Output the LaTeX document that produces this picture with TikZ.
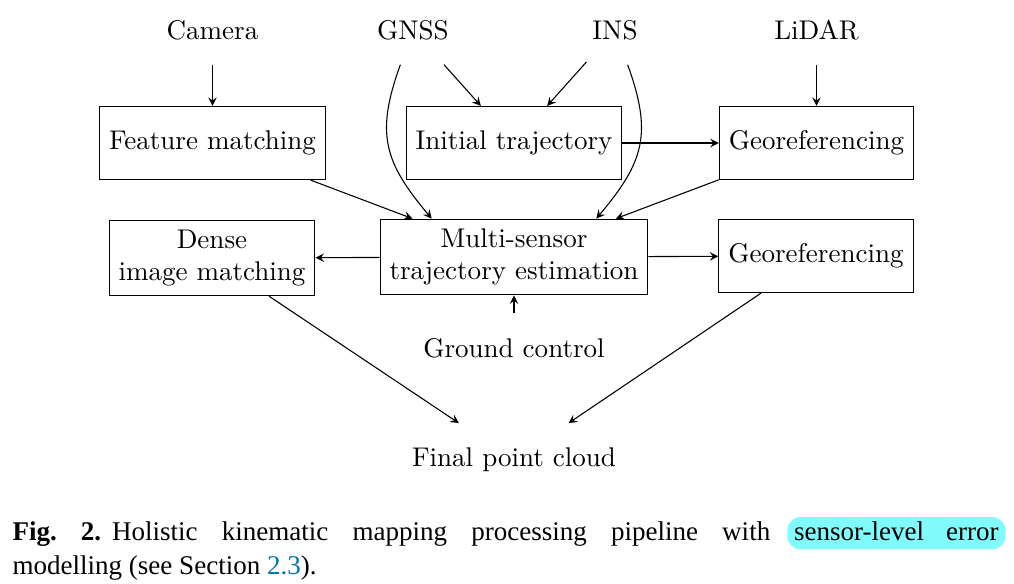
\documentclass[tikz,border=0pt]{standalone}
\usepackage{fontspec}
\usepackage{xcolor}
\usetikzlibrary{arrows}
\newfontfamily\capfont{Liberation Serif}
\definecolor{hlcyan}{RGB}{128,250,250}
\definecolor{reflink}{RGB}{0,118,178}

\begin{document}
\frenchspacing
\begin{tikzpicture}[x=0.013cm, y=-0.013cm, >=stealth,
  box/.style={draw, align=center, minimum height=0.95cm, inner xsep=3.5pt, inner ysep=3.5pt},
  lbl/.style={inner xsep=2pt, inner ysep=9pt},
  captext/.style={inner sep=0pt, font=\capfont\fontsize{10}{12}\selectfont}]
\useasboundingbox (0,0) rectangle (1014,584);
% sensors
\node [lbl] (camera) at (212.5,30) {Camera};
\node [lbl] (gnss) at (413,30) {GNSS};
\node [lbl] (ins) at (615,30) {INS};
\node [lbl] (lidar) at (816.5,30) {LiDAR};
% processing steps
\node [box] (feature) at (212.5,143) {Feature matching};
\node [box] (initial) at (514,143) {Initial trajectory};
\node [box] (georefa) at (816.5,143) {Georeferencing};
\node [box] (dense) at (212,258) {Dense\\image matching};
\node [box] (multi) at (514,257) {Multi-sensor\\trajectory estimation};
\node [box] (georefb) at (816,256) {Georeferencing};
\node [lbl] (ground) at (514,348) {Ground control};
\node [lbl] (cloud) at (514,460) {Final point cloud};
% connectors
\draw [->] (camera) -- (feature);
\draw [->] (lidar) -- (georefa);
\draw [->] (gnss) -- (initial);
\draw [->] (ins) -- (initial);
\draw [->] (gnss) to [out=-110, in=130, looseness=1.2] (multi.155);
\draw [->] (ins) to [out=-70, in=50, looseness=1.2] (multi.25);
\draw [->] (initial) -- (georefa);
\draw [->] (feature) -- (multi);
\draw [->] (georefa) -- (multi);
\draw [->] (multi) -- (dense);
\draw [->] (multi) -- (georefb);
\draw [->] (ground) -- (multi);
\draw [->] (dense) -- (cloud);
\draw [->] (georefb) -- (cloud);
% caption
\node [captext, anchor=base west] (capone) at (12,540) {\makebox[9.85cm][s]{\textbf{Fig. 2.}\hspace{4pt}Holistic kinematic mapping processing pipeline with}};
\node [captext, anchor=base east, fill=hlcyan, rounded corners=5pt, inner xsep=2.5pt, inner ysep=1.5pt, text height=7pt, text depth=2pt] (caphl) at (1006,540) {\makebox[2.66cm][s]{sensor-level error}};
\node [captext, anchor=base west] (captwo) at (12,574) {modelling (see Section \textcolor{reflink}{2.3}).};
\end{tikzpicture}
\end{document}
